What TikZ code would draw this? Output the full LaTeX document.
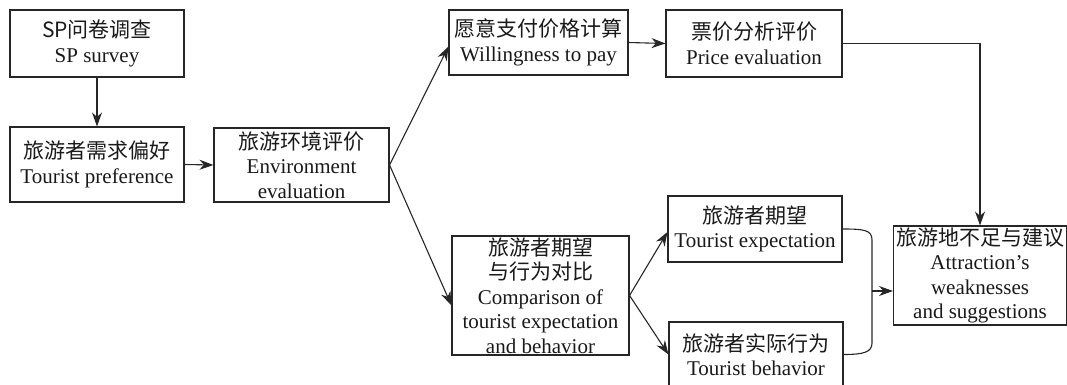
\documentclass[tikz,border=0pt]{standalone}
\usepackage{fontspec}
\setmainfont{Liberation Serif}
\newfontfamily\cjk{Noto Sans CJK SC}
\usetikzlibrary{arrows.meta,calc}
\begin{document}
\begin{tikzpicture}[x=1pt,y=1pt,
  box/.style={draw=black!85,line width=1.1pt,align=center,inner sep=0pt,
    font=\fontsize{21}{24.5}\selectfont,text=black!90},
  conn/.style={draw=black!85,line width=1.1pt},
  arr/.style={conn,-{Stealth[length=14pt,width=10pt]}}]
\useasboundingbox (0,0) rectangle (1067,-385);
\node[box,minimum width=174pt,minimum height=67pt] (b1) at (97,-43.5) {{\cjk SP问卷调查}\\SP survey};
\node[box,minimum width=174pt,minimum height=75pt] (b2) at (97,-164.5) {{\cjk 旅游者需求偏好}\\Tourist preference};
\node[box,minimum width=175pt,minimum height=74pt] (b3) at (301.5,-165) {{\cjk 旅游环境评价}\\Environment\\evaluation};
\node[box,minimum width=179pt,minimum height=65pt] (b4) at (538.5,-42.5) {{\cjk 愿意支付价格计算}\\Willingness to pay};
\node[box,minimum width=176pt,minimum height=67pt] (b5) at (754,-43.5) {{\cjk 票价分析评价}\\Price evaluation};
\node[box,minimum width=177pt,minimum height=119pt] (b6) at (540.5,-295.5) {{\cjk 旅游者期望}\\{\cjk 与行为对比}\\Comparison of\\tourist expectation\\and behavior};
\node[box,minimum width=174pt,minimum height=66pt] (b7) at (755,-229) {{\cjk 旅游者期望}\\Tourist expectation};
\node[box,minimum width=174pt,minimum height=65pt] (b8) at (756,-354.5) {{\cjk 旅游者实际行为}\\Tourist behavior};
\node[box,minimum width=173pt,minimum height=99pt] (b9) at (980,-275.5) {{\cjk 旅游地不足与建议}\\Attraction’s\\weaknesses\\and suggestions};
\draw[arr] (b1.south) -- (b2.north);
\draw[arr] (b2.east) -- (b3.west);
\draw[arr] (b3.east) -- ([yshift=-4pt]b4.west);
\draw[arr] (b3.east) -- ([yshift=-10pt]b6.west);
\draw[arr] (b4.east) -- (b5.west);
\draw[arr] (b5.east) -| (b9.north);
\draw[arr] (b6.east) -- ([yshift=-3pt]b7.west);
\draw[arr] (b6.east) -- (b8.west);
\coordinate (brk) at (872,-291);
\draw[conn] (b7.east) .. controls (864,-229) and (872,-230) .. (872,-240) -- (872,-343) .. controls (872,-352) and (864,-354.5) .. (b8.east);
\draw[arr] (brk) -- (brk -| b9.west);
\end{tikzpicture}
\end{document}
